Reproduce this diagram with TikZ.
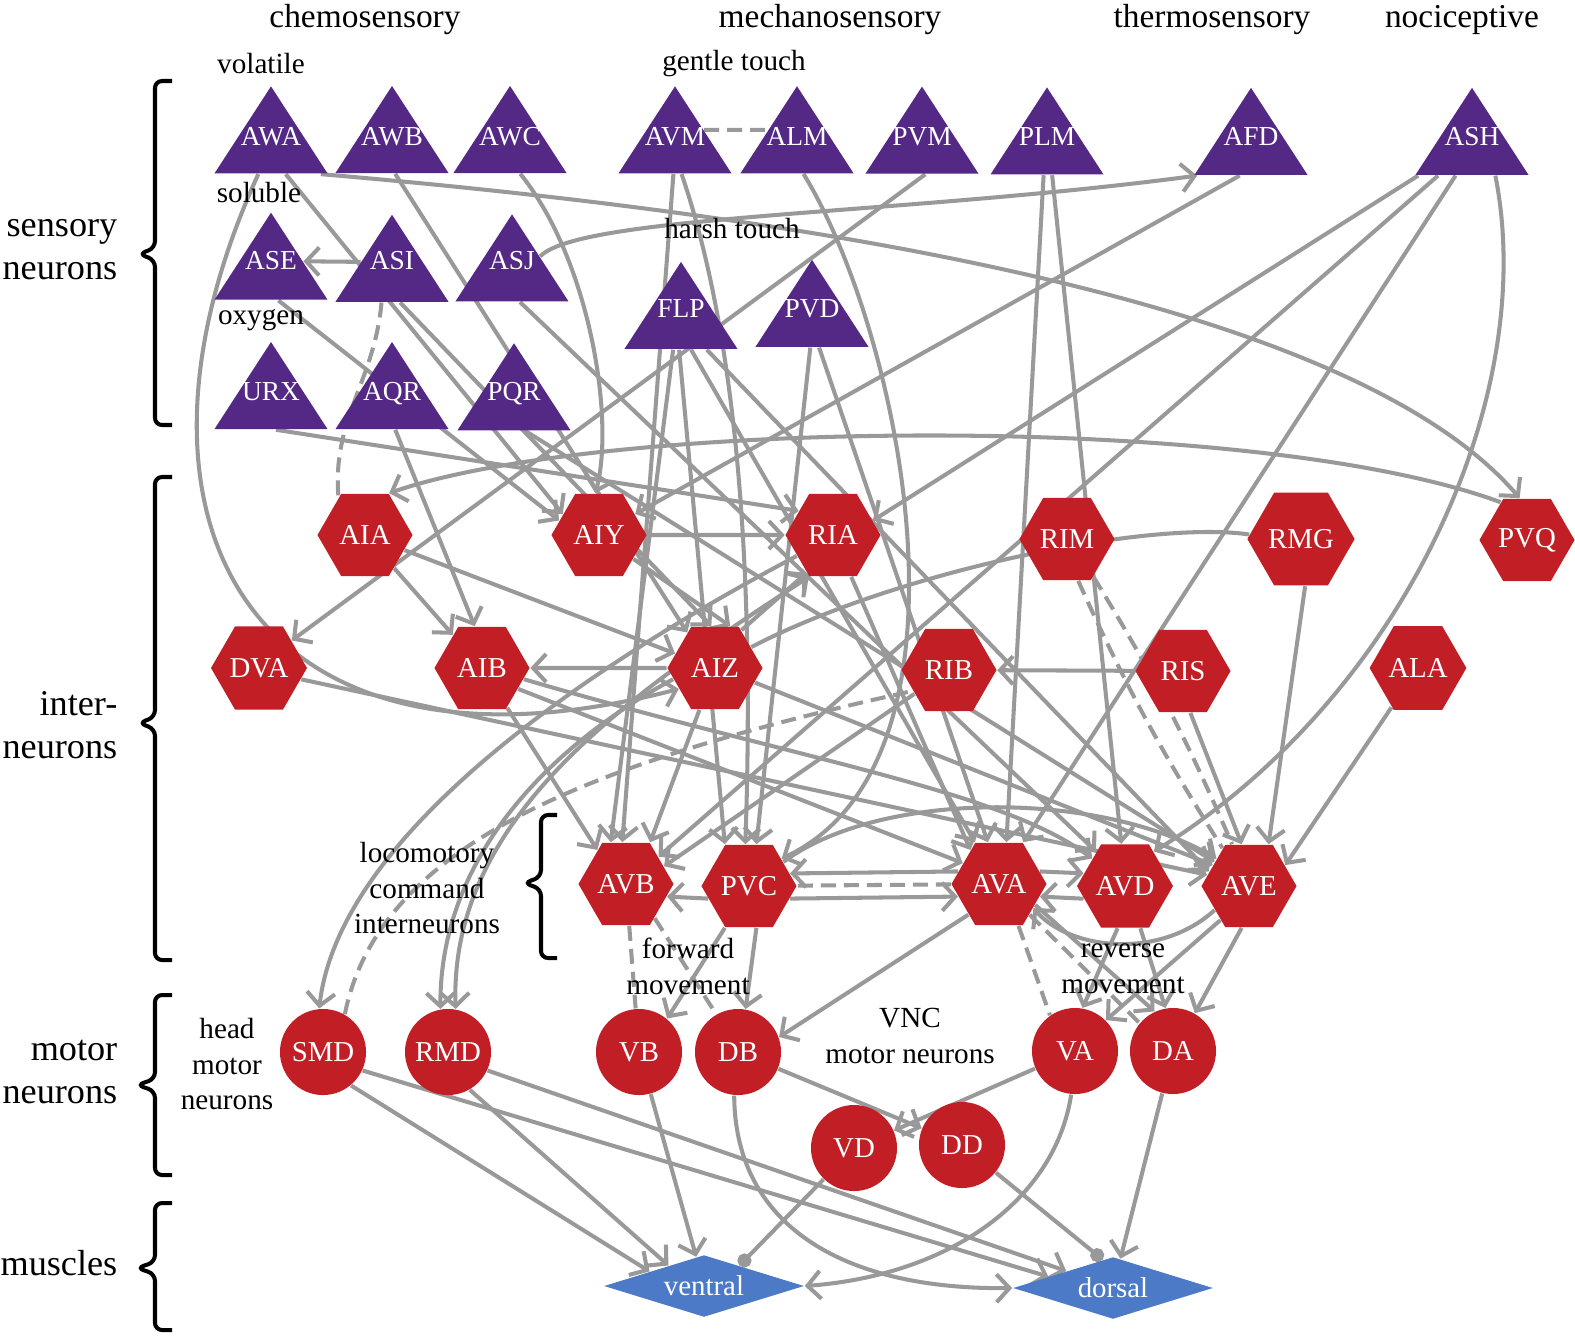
\documentclass[tikz,border=0pt]{standalone}
\usepackage{fontspec}
\setmainfont{Liberation Serif}
\usetikzlibrary{shapes.geometric, arrows.meta, positioning}
\definecolor{sensc}{RGB}{84,40,133}
\definecolor{neurc}{RGB}{194,30,37}
\definecolor{muscc}{RGB}{77,122,199}
\definecolor{wirec}{RGB}{153,153,153}
\pgfdeclarelayer{wires}
\pgfsetlayers{wires,main}
\begin{document}
\begin{tikzpicture}[
    x=0.01cm, y=-0.01cm,
    sens/.style={isosceles triangle, isosceles triangle apex angle=66, shape border rotate=90, minimum width=0.87cm, minimum height=0.87cm, inner sep=0pt, text height=0pt, text depth=0.21cm, fill=sensc, text=white, font=\fontsize{7.8}{9}\selectfont},
    inter/.style={regular polygon, regular polygon sides=6, minimum size=0.95cm, inner sep=0pt, fill=neurc, text=white, font=\fontsize{8.2}{9}\selectfont},
    motor/.style={circle, minimum size=0.86cm, inner sep=0pt, fill=neurc, text=white, font=\fontsize{8.2}{9}\selectfont},
    muscle/.style={diamond, aspect=3.2, minimum width=2cm, minimum height=0.62cm, inner sep=0pt, fill=muscc, text=white, font=\fontsize{8.2}{9}\selectfont},
    wire/.style={draw=wirec, line width=1.15pt},
    arr/.style={wire, -{Straight Barb[length=1.3mm, width=2.8mm]}},
    biarr/.style={wire, {Straight Barb[length=1.3mm, width=2.8mm]}-{Straight Barb[length=1.3mm, width=2.8mm]}},
    gap/.style={wire, dash pattern=on 1.5mm off 0.8mm},
    inh/.style={wire, -{Circle[length=1.4mm]}},
    cat/.style={font=\fontsize{9.5}{11}\selectfont},
    lbl/.style={font=\fontsize{8.3}{10.2}\selectfont, align=center},
    side/.style={font=\fontsize{10.3}{12.2}\selectfont, align=right, anchor=east, inner sep=0pt},
    brk/.style={line width=1.15pt, rounded corners=0.07cm},
]
\useasboundingbox (0,0) rectangle (1575,1335);

\node[cat] (chemo) at (365,20) {chemosensory};
\node[cat] (mechano) at (830,20) {mechanosensory};
\node[cat] (thermo) at (1212,20) {thermosensory};
\node[cat] (noci) at (1462,20) {nociceptive};
\node[lbl] (volatile) at (261,64) {volatile};
\node[lbl] (gentle) at (734,64) {gentle touch};
\node[lbl] (soluble) at (259,193) {soluble};
\node[lbl] (harsh) at (732,229) {harsh touch};
\node[lbl] (oxygen) at (261,320) {oxygen};

\node[sens] (AWA) at (271,156) {AWA};
\node[sens] (AWB) at (392,156) {AWB};
\node[sens] (AWC) at (510,156) {AWC};
\node[sens] (AVM) at (675,156) {AVM};
\node[sens] (ALM) at (797,156) {ALM};
\node[sens] (PVM) at (922,156) {PVM};
\node[sens] (PLM) at (1047,156) {PLM};
\node[sens] (AFD) at (1251,156) {AFD};
\node[sens] (ASH) at (1472,156) {ASH};
\node[sens] (ASE) at (271,280) {ASE};
\node[sens] (ASI) at (392,280) {ASI};
\node[sens] (ASJ) at (512,280) {ASJ};
\node[sens] (URX) at (271,411) {URX};
\node[sens] (AQR) at (392,411) {AQR};
\node[sens] (PQR) at (514,411) {PQR};
\node[sens] (FLP) at (681,328) {FLP};
\node[sens] (PVD) at (812,328) {PVD};

\node[inter] (AIA) at (365,535) {AIA};
\node[inter] (AIY) at (599,535) {AIY};
\node[inter] (RIA) at (833,535) {RIA};
\node[inter] (RIM) at (1067,539) {RIM};
\node[inter] (RMG) at (1301,539) {RMG};
\node[inter] (PVQ) at (1527,540) {PVQ};
\node[inter] (DVA) at (259,668) {DVA};
\node[inter] (AIB) at (482,668) {AIB};
\node[inter] (AIZ) at (715,668) {AIZ};
\node[inter] (RIB) at (949,670) {RIB};
\node[inter] (RIS) at (1183,671) {RIS};
\node[inter] (ALA) at (1418,668) {ALA};
\node[inter] (AVB) at (626,884) {AVB};
\node[inter] (PVC) at (749,886) {PVC};
\node[inter] (AVA) at (999,884) {AVA};
\node[inter] (AVD) at (1125,886) {AVD};
\node[inter] (AVE) at (1249,886) {AVE};

\node[motor] (SMD) at (323,1052) {SMD};
\node[motor] (RMD) at (448,1052) {RMD};
\node[motor] (VB) at (639,1052) {VB};
\node[motor] (DB) at (738,1052) {DB};
\node[motor] (VA) at (1075,1051) {VA};
\node[motor] (DA) at (1173,1051) {DA};
\node[motor] (VD) at (854,1148) {VD};
\node[motor] (DD) at (962,1145) {DD};

\node[muscle] (ventral) at (704,1286) {ventral};
\node[muscle] (dorsal) at (1113,1288) {dorsal};

\node[lbl] (loco) at (427,888) {locomotory\\command\\interneurons};
\node[lbl] (head) at (227,1064) {head\\motor\\neurons};
\node[lbl] (fwd) at (688,966) {forward\\movement};
\node[lbl] (vnc) at (910,1036) {VNC\\motor neurons};
\node[lbl] (rev) at (1123,969) {reverse\\movement};

\node[side] (sensory) at (118,250) {sensory\\neurons};
\node[side] (interlbl) at (118,725) {inter-\\neurons};
\node[side] (motorlbl) at (118,1072) {motor\\neurons};
\node[side] (muscles) at (118,1263) {muscles};

\draw[brk] (172,81) -- (155,81) -- (155,248) -- (139,254) -- (155,260) -- (155,425) -- (172,425);
\draw[brk] (172,477) -- (155,477) -- (155,717) -- (139,723) -- (155,729) -- (155,960) -- (172,960);
\draw[brk] (172,995) -- (155,995) -- (155,1079) -- (137,1085) -- (155,1091) -- (155,1175) -- (172,1175);
\draw[brk] (172,1203) -- (155,1203) -- (155,1262) -- (137,1268) -- (155,1274) -- (155,1330) -- (172,1330);
\draw[brk] (557,815) -- (541,815) -- (541,877) -- (524,883) -- (541,889) -- (541,958) -- (557,958);

\begin{pgfonlayer}{wires}
\draw[arr] (ASI.150) -- (ASE.30);
\draw[gap] (AVM.42) -- (ALM.138);
\draw[gap] (ASI.-115) to[out=-95,in=95] (AIA.125);
\draw[arr] (AWA) -- (AIY.150);
\draw[arr] (AWA.-20) .. controls (800,215) and (1350,300) .. (PVQ.100);
\draw[arr] (ASJ.40) .. controls (580,215) and (900,215) .. (AFD.200);
\draw[arr] (AWA.-125) .. controls (100,520) and (250,800) .. (AIZ.-150);
\draw[arr] (URX.-75) -- (RIA.145);
\draw[arr] (ASE.-70) -- (AIY.160);
\draw[arr] (ASI.-70) -- (AIZ.95);
\draw[arr] (AWB.-80) -- (AIZ.128);
\draw[arr] (AWC.-60) .. controls (590,260) and (615,420) .. (AIY.95);
\draw[arr] (AQR.-80) -- (AIB.100);
\draw[arr] (ASJ.-70) -- (AVD.130);
\draw[arr] (PQR.-60) -- (AVE.145);
\draw[arr] (AVM.-95) -- (AVB.95);
\draw[arr] (AVM.-70) .. controls (735,330) and (755,560) .. (PVC.95);
\draw[arr] (ALM.-70) .. controls (900,330) and (990,760) .. (PVC.40);
\draw[arr] (PVM.-80) -- (DVA.40);
\draw[arr] (PLM.-100) -- (AVA.80);
\draw[arr] (PLM.-75) -- (AVD.95);
\draw[arr] (FLP.-110) -- (AVB.110);
\draw[arr] (FLP.-95) -- (PVC.120);
\draw[arr] (FLP.-65) -- (AVA.120);
\draw[arr] (FLP.-40) -- (AVE.160);
\draw[arr] (PVD.-95) -- (PVC.80);
\draw[arr] (PVD.-70) -- (AVA.105);
\draw[arr] (AFD.-120) -- (AIY.30);
\draw[arr] (ASH.-160) -- (RIA.20);
\draw[arr] (ASH.-150) -- (AVB.40);
\draw[arr] (ASH.-130) -- (AVA.60);
\draw[arr] (ASH.-40) .. controls (1540,400) and (1400,700) .. (AVD.50);

\draw[arr] (AIY) -- (RIA);
\draw[arr] (AIY) -- (AIZ.70);
\draw[arr] (AIA) -- (AIB);
\draw[arr] (AIA) -- (AIZ.160);
\draw[arr] (AIZ) -- (AIB);
\draw[arr] (AIZ.55) -- (RIA.-125);
\draw[arr] (PVQ.125) .. controls (1250,410) and (600,420) .. (AIA.60);
\draw[wire] (AIZ.30) .. controls (900,570) and (1150,520) .. (RMG.175);
\draw[arr] (RIS) -- (RIB);
\draw[arr] (RIS.-80) -- (AVE.100);
\draw[arr] (RMG.-85) -- (AVE.65);
\draw[arr] (ALA) -- (AVE.30);
\draw[gap] (RIM.-75) to[bend right=4] (AVE.125);
\draw[gap] (RIM.-55) to[bend left=4] (AVE.112);
\draw[gap] (SMD.60) .. controls (380,840) and (600,760) .. (RIB.-150);
\draw[arr] (RIA.-150) .. controls (600,660) and (340,830) .. (SMD.95);
\draw[biarr] (RIA.-120) .. controls (620,700) and (450,820) .. (RMD.80);
\draw[arr] (AIZ.-165) .. controls (560,740) and (440,850) .. (RMD.100);
\draw[arr] (AIB) -- (AVB.130);
\draw[arr] (AIZ) -- (AVB.60);
\draw[arr] (RIB) -- (AVB.25);
\draw[arr] (AIB.-30) -- (AVA.150);
\draw[arr] (AIB.-15) .. controls (800,760) and (1000,790) .. (AVD.140);
\draw[arr] (DVA.-15) -- (AVE.165);
\draw[arr] (AIZ.-20) -- (AVE.150);
\draw[arr] (RIA) -- (AVA.130);
\draw[arr] (PVC.35) .. controls (880,790) and (1100,790) .. (AVE.140);

\draw[arr] (AVA.163) -- (PVC.17);
\draw[gap] (AVA) -- (PVC);
\draw[arr] (PVC.-17) -- (AVA.-163);
\draw[arr] (PVC.-163) -- (AVB.-17);
\draw[arr] (AVA.17) -- (AVD.163);
\draw[arr] (AVD.-163) -- (AVA.-17);
\draw[arr] (AVE.-145) .. controls (1160,960) and (1070,950) .. (AVA.-35);

\draw[gap] (AVB) -- (VB);
\draw[gap] (AVB.-50) -- (DB.120);
\draw[arr] (PVC.-120) -- (VB.50);
\draw[arr] (PVC.-80) -- (DB.80);
\draw[arr] (AVA.-135) -- (DB.20);
\draw[gap] (AVA.-65) -- (VA.125);
\draw[gap] (AVA.-45) -- (DA.140);
\draw[arr] (AVA.-30) -- (DA.115);
\draw[arr] (AVD.-100) -- (VA.80);
\draw[arr] (AVD.-70) -- (DA.100);
\draw[arr] (AVE.-130) -- (VA.45);
\draw[arr] (AVE.-100) -- (DA.60);
\draw[arr] (DB) -- (DD);
\draw[arr] (VA) -- (VD);

\draw[arr] (SMD.-50) -- (ventral.165);
\draw[arr] (RMD.-60) -- (ventral.150);
\draw[arr] (VB) -- (ventral.105);
\draw[inh] (VD) -- (ventral.30);
\draw[arr] (VA.-95) .. controls (1055,1200) and (950,1275) .. (ventral.east);
\draw[arr] (SMD.-25) -- (dorsal.170);
\draw[arr] (RMD.-25) -- (dorsal.160);
\draw[arr] (DB.-95) .. controls (735,1230) and (850,1290) .. (dorsal.west);
\draw[inh] (DD) -- (dorsal.110);
\draw[arr] (DA) -- (dorsal);
\end{pgfonlayer}

\end{tikzpicture}
\end{document}
